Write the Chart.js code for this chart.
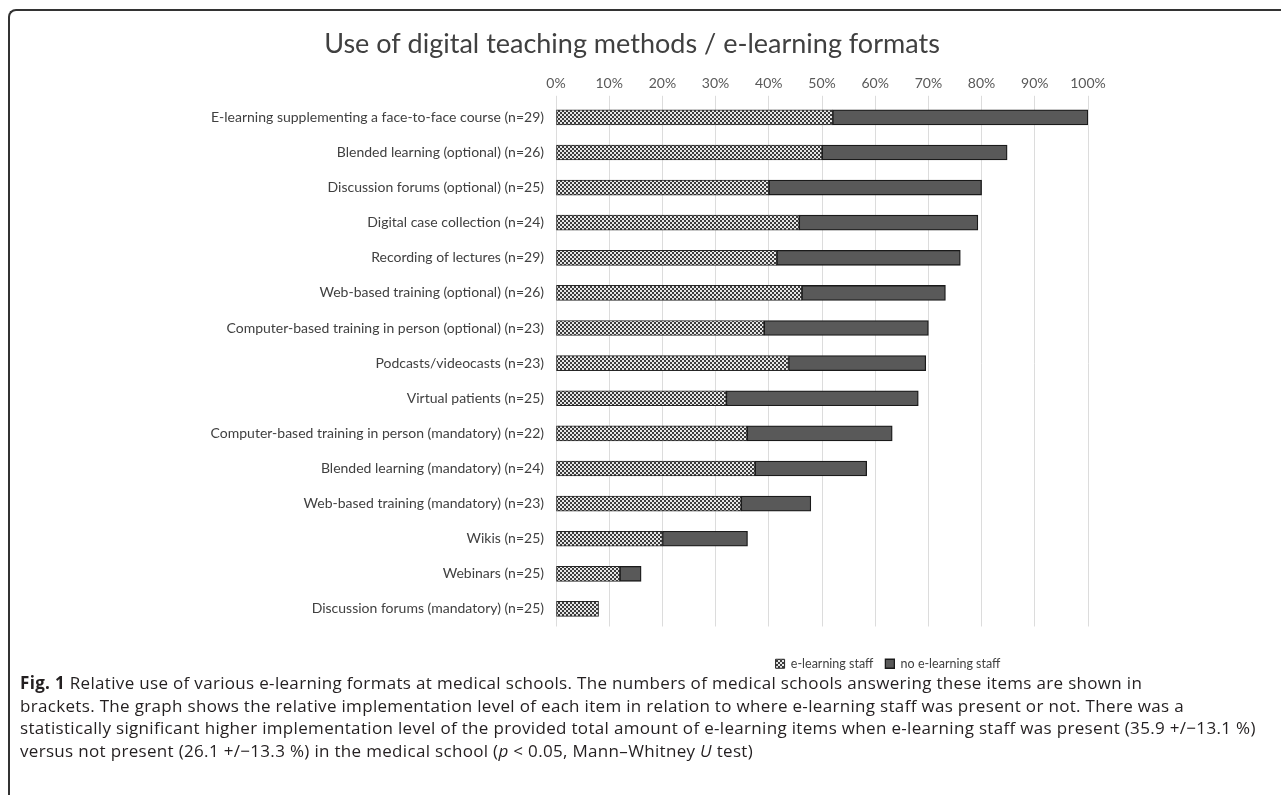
<!DOCTYPE html>
<html>
<head>
<meta charset="utf-8">
<script src="https://cdn.jsdelivr.net/npm/chart.js@4/dist/chart.umd.min.js"></script>
<style>
  html, body { margin: 0; padding: 0; background: #fff; }
  body { width: 1281px; height: 795px; position: relative; overflow: hidden; }
  #frame { position: absolute; left: 8px; top: 9px; width: 1300px; height: 820px;
           border-top: 2px solid #333; border-left: 2px solid #333; border-top-left-radius: 8px; }
  #wrap { position: absolute; left: 0; top: 12px; width: 1264px; height: 672px; }
  #cap { position: absolute; left: 20px; top: 672px; width: 1260px; font-family: "Open Sans", sans-serif;
         font-size: 17px; letter-spacing: 0.32px; line-height: 22.7px; color: #231f20; white-space: nowrap; }
</style>
</head>
<body>
<div id="frame"></div>
<div id="wrap"><canvas id="myChart" width="1264" height="672"></canvas></div>
<div id="cap"><b>Fig. 1</b> Relative use of various e-learning formats at medical schools. The numbers of medical schools answering these items are shown in<br>brackets. The graph shows the relative implementation level of each item in relation to where e-learning staff was present or not. There was a<br>statistically significant higher implementation level of the provided total amount of e-learning items when e-learning staff was present (35.9 +/−13.1 %)<br>versus not present (26.1 +/−13.3 %) in the medical school (<i>p</i> &lt; 0.05, Mann–Whitney <i>U</i> test)</div>
<script>
// values (percent of schools)
const formats = [
    'E-learning supplementing a face-to-face course (n=29)',
    'Blended learning (optional) (n=26)',
    'Discussion forums (optional) (n=25)',
    'Digital case collection (n=24)',
    'Recording of lectures (n=29)',
    'Web-based training (optional) (n=26)',
    'Computer-based training in person (optional) (n=23)',
    'Podcasts/videocasts (n=23)',
    'Virtual patients (n=25)',
    'Computer-based training in person (mandatory) (n=22)',
    'Blended learning (mandatory) (n=24)',
    'Web-based training (mandatory) (n=23)',
    'Wikis (n=25)',
    'Webinars (n=25)',
    'Discussion forums (mandatory) (n=25)'
];
const staffPct = [52, 50, 40, 45.7, 41.5, 46.2, 39.1, 43.7, 32, 35.9, 37.4, 34.8, 20, 12, 8];
const noStaffPct = [48, 34.8, 40, 33.6, 34.5, 27, 30.9, 25.8, 36.1, 27.3, 21, 13.1, 16, 4, 0];
const seriesNames = ['e-learning staff', 'no e-learning staff'];
const chartTitle = 'Use of digital teaching methods / e-learning formats';

function checker(ctx) {
    const c = document.createElement('canvas');
    c.width = 4; c.height = 4;
    const g = c.getContext('2d');
    g.fillStyle = '#e6e6e6';
    g.fillRect(0, 0, 4, 4);
    g.fillStyle = '#3c3c3c';
    g.fillRect(0, 0, 2, 2);
    g.fillRect(2, 2, 2, 2);
    return ctx.createPattern(c, 'repeat');
}

// legend sits right of the plot centre in the figure
const legendShift = {
    id: 'legendShift',
    afterLayout(chart) {
        if (chart.legend) chart.legend.left += 132;
    }
};

function setup() {
    const ctx = document.getElementById('myChart').getContext('2d');
    Chart.defaults.font.family = 'Lato, "Open Sans", sans-serif';
    new Chart(ctx, {
        type: 'bar',
        data: {
            labels: formats,
            datasets: [
                {
                    label: seriesNames[0],
                    data: staffPct,
                    backgroundColor: checker(ctx),
                    borderColor: '#262626',
                    borderWidth: 1,
                    borderSkipped: false,
                    barThickness: 15
                },
                {
                    label: seriesNames[1],
                    data: noStaffPct,
                    backgroundColor: '#595959',
                    borderColor: '#1a1a1a',
                    borderWidth: 1.3,
                    borderSkipped: false,
                    barThickness: 15
                }
            ]
        },
        options: {
            indexAxis: 'y',
            responsive: false,
            animation: false,
            layout: { padding: { bottom: 4 } },
            scales: {
                x: {
                    position: 'top',
                    stacked: true,
                    min: 0,
                    max: 100,
                    ticks: { stepSize: 10, callback: v => v + '%', color: '#595959', font: { size: 14 }, padding: 3.5 },
                    grid: { color: '#dcdcdc', tickLength: 4 },
                    border: { display: false }
                },
                x2: {
                    position: 'bottom',
                    display: true,
                    ticks: { display: false },
                    grid: { display: false },
                    border: { display: false },
                    afterFit(s) { s.height = 19; }
                },
                y: {
                    stacked: true,
                    grid: { display: false },
                    border: { display: false },
                    ticks: { color: '#404040', font: { size: 14 }, padding: 4 },
                    afterFit(s) { s.width = 556; }
                },
                y2: {
                    position: 'right',
                    display: true,
                    ticks: { display: false },
                    grid: { display: false },
                    border: { display: false },
                    afterFit(s) { s.width = 176; }
                }
            },
            plugins: {
                title: {
                    display: true,
                    text: chartTitle,
                    color: '#404040',
                    font: { size: 27, weight: 'normal' },
                    padding: { top: 16, bottom: 11.6 }
                },
                legend: {
                    position: 'bottom',
                    fullSize: false,
                    labels: { boxWidth: 9, boxHeight: 9, padding: 12, color: '#404040', font: { size: 12.5 } }
                },
                tooltip: { enabled: false }
            }
        },
        plugins: [legendShift]
    });
}
setup();
</script>
</body>
</html>
